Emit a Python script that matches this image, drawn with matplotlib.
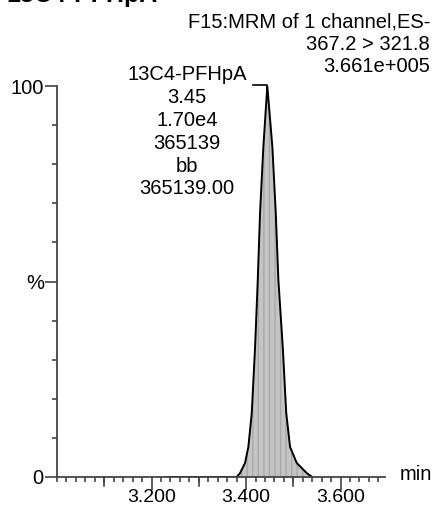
import matplotlib.pyplot as plt
from matplotlib.ticker import MultipleLocator, FixedLocator

plt.rcParams['font.family'] = ['Liberation Sans', 'DejaVu Sans']

# chromatogram trace (time in min, intensity in %)
times = [3.235, 3.380, 3.3873, 3.3979, 3.4049, 3.4121, 3.4191, 3.4248, 3.4296,
         3.4366, 3.445, 3.4557, 3.4629, 3.4684, 3.4777, 3.4850, 3.4931, 3.5072,
         3.5284, 3.540]
intens = [0, 0, 1.0, 3.6, 7.7, 16.4, 33.2, 50.4, 67.5,
          84.4, 100, 84.4, 67.5, 50.4, 33.2, 16.4, 7.7, 3.6,
          1.0, 0]

title = "13C4-PFHpA"
header = ["F15:MRM of 1 channel,ES-", "367.2 > 321.8", "3.661e+005"]
peak_label = ["13C4-PFHpA", "3.45", "1.70e4", "365139", "bb", "365139.00"]
peak_rt = 3.445
xticks_major = [3.200, 3.400, 3.600]

W, H = 437, 509
fig = plt.figure(figsize=(W / 100, H / 100), dpi=100)
ax = fig.add_axes([57 / W, 1 - 477 / H, (385 - 57) / W, (477 - 86) / H])

ax.fill_between(times, intens, 0, facecolor='#c4c4c4', edgecolor='#a8a8a8',
                hatch='|||', lw=0, zorder=1)
ax.plot(times, intens, color='black', lw=1.4, zorder=2)

ax.set_xlim(3.0, 3.694)
ax.set_ylim(0, 100)

for s in ['top', 'right']:
    ax.spines[s].set_visible(False)
for s in ['left', 'bottom']:
    ax.spines[s].set_color('#444444')
    ax.spines[s].set_linewidth(1.3)

# x ticks: labelled every 0.2, medium every 0.1, small every 0.02
ax.xaxis.set_major_locator(FixedLocator(xticks_major))
ax.set_xticklabels(["%.3f" % v for v in xticks_major])
ax.xaxis.set_minor_locator(MultipleLocator(0.02))
ax.tick_params(axis='x', which='major', direction='out', length=9, width=1.2,
               color='#444444', labelsize=14, pad=0)
ax.tick_params(axis='x', which='minor', direction='out', length=3.8, width=1.2,
               color='#444444')
for t in [3.1, 3.3, 3.5]:
    ax.plot([t, t], [0, -2.2], color='#444444', lw=1.2, clip_on=False)

# y ticks: 0, %, 100 with minors every 10
ax.yaxis.set_major_locator(FixedLocator([0, 50, 100]))
ax.set_yticklabels(["0", "%", "100"])
ax.yaxis.set_minor_locator(MultipleLocator(10))
ax.tick_params(axis='y', which='major', direction='out', length=8.5, width=1.2,
               color='#444444', labelsize=14.5, pad=1)
ax.tick_params(axis='y', which='minor', direction='out', length=3.6, width=1.2,
               color='#444444')

fig.text(400 / W, 1 - 475 / H, "min", fontsize=14.5, va='center', ha='left')

# title, cut off at the top edge
fig.text(6 / W, 1 - 2 / H, title, fontsize=18, fontweight='bold',
         ha='left', va='baseline')

# header block on the right
for i, line in enumerate(header):
    fig.text(430 / W, 1 - (22 + 22.5 * i) / H, line, fontsize=14.5,
             ha='right', va='center')

# peak label block
for i, line in enumerate(peak_label):
    fig.text(187 / W, 1 - (75 + 22.8 * i) / H, line, fontsize=14.5,
             ha='center', va='center')

# leader line from the label to the peak apex
ax.plot([3.4148, peak_rt, peak_rt], [100.3, 100.3, 99.0], color='black',
        lw=1.2, clip_on=False)

fig.savefig("out.png", dpi=100)
